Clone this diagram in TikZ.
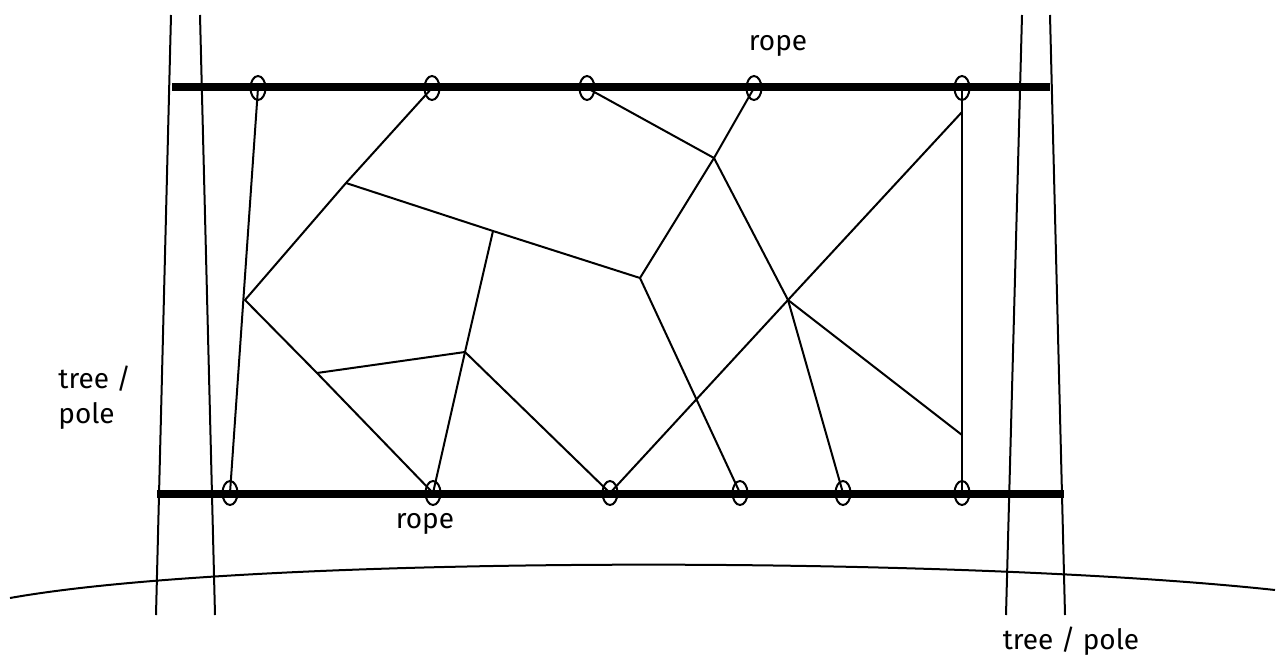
\documentclass[tikz,border=0pt]{standalone}
\usepackage{fontspec}
\setmainfont{Fira Sans}
\usetikzlibrary{shapes.geometric}

\begin{document}
\begin{tikzpicture}[
  x=0.5pt, y=-0.5pt,
  font=\fontsize{14}{17.5}\selectfont,
  thin line/.style={line width=1pt, black},
  rope/.style={line width=3.8pt, black},
  ring/.style={draw, ellipse, line width=1pt, inner sep=0pt, minimum width=7.5pt, minimum height=12pt},
  lab/.style={inner sep=0pt, align=left}
]
\useasboundingbox (0,0) rectangle (1279,658);
% trees / poles
\draw[thin line] (171,15) -- (156,615);
\draw[thin line] (200,15) -- (215,615);
\draw[thin line] (1022,15) -- (1006,615);
\draw[thin line] (1050,15) -- (1065,615);
% ground
\draw[thin line] (10,598) .. controls (250,555) and (950,555) .. (1275,590);
% ropes
\draw[rope] (172,87) -- (1050,87);
\draw[rope] (157,494) -- (1064,494);
% rings on the top rope
\node[ring] (t1) at (258,88) {};
\node[ring] (t2) at (432,88) {};
\node[ring] (t3) at (587,88) {};
\node[ring] (t4) at (754,88) {};
\node[ring] (t5) at (962,88) {};
% rings on the bottom rope
\node[ring] (b1) at (230,493) {};
\node[ring] (b2) at (433,493) {};
\node[ring] (b3) at (610,493) {};
\node[ring] (b4) at (740,493) {};
\node[ring] (b5) at (843,493) {};
\node[ring] (b6) at (962,493) {};
% knots of the net
\coordinate (k1) at (346,183);
\coordinate (k2) at (245,300);
\coordinate (k3) at (493,231);
\coordinate (k4) at (640,278);
\coordinate (k5) at (317,373);
\coordinate (k6) at (465,352);
\coordinate (k7) at (714,158);
\coordinate (k8) at (788,300);
\coordinate (k9) at (962,112);
\coordinate (k10) at (962,435);
% net
\draw[thin line] (t1.center) -- (b1.center);
\draw[thin line] (t2.center) -- (k1) -- (k2) -- (k5) -- (b2.center);
\draw[thin line] (k1) -- (k3) -- (k4);
\draw[thin line] (k3) -- (k6) -- (b2.center);
\draw[thin line] (k5) -- (k6) -- (b3.center);
\draw[thin line] (t3.center) -- (k7);
\draw[thin line] (t4.center) -- (k7) -- (k4) -- (b4.center);
\draw[thin line] (k7) -- (k8) -- (b5.center);
\draw[thin line] (b3.center) -- (k8) -- (k9);
\draw[thin line] (k8) -- (k10);
\draw[thin line] (t5.center) -- (k9) -- (k10) -- (b6.center);
% labels
\node[lab] (ropetop) at (778,46) {rope};
\node[lab] (ropebot) at (425,524) {rope};
\node[lab, anchor=west] (treeleft) at (58,398) {tree /\\pole};
\node[lab] (treeright) at (1071,641) {tree / pole};
\end{tikzpicture}
\end{document}
